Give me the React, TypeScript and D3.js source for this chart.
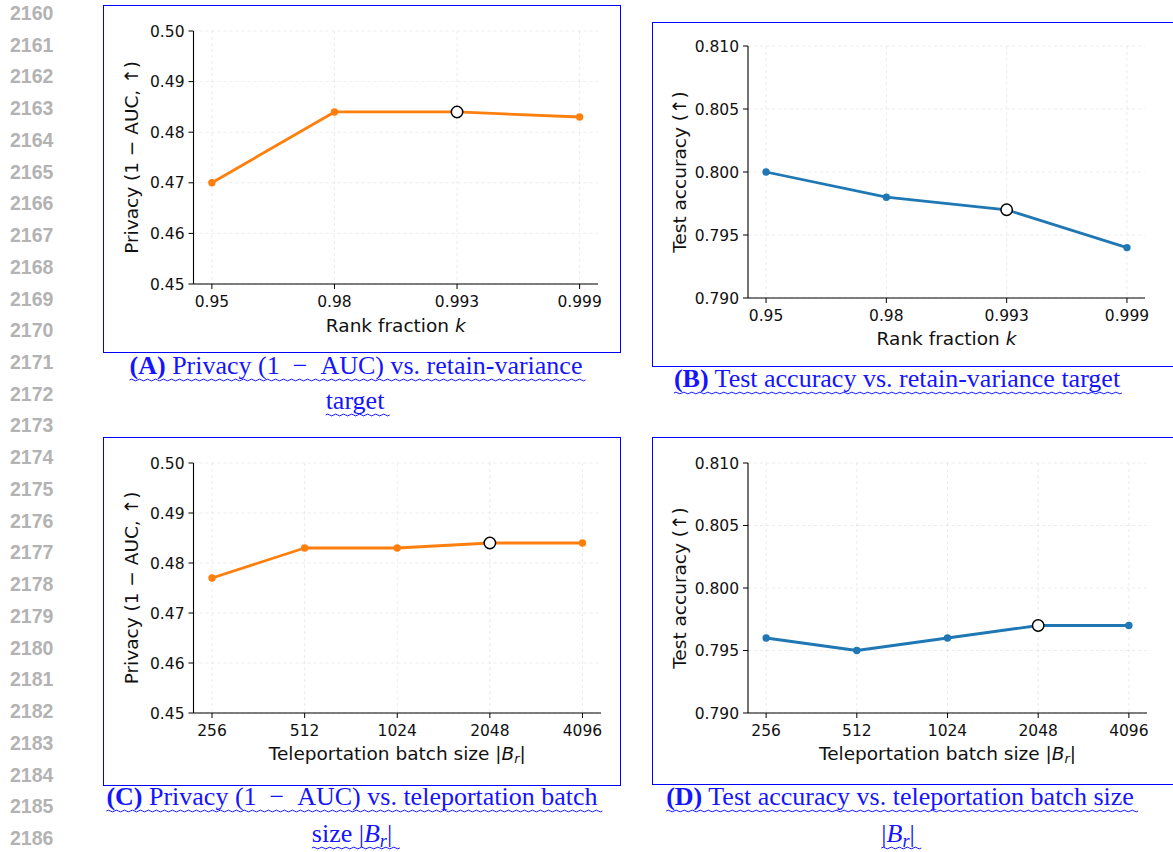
import React, { useLayoutEffect, useRef, useState } from "react";
import * as d3 from "d3";

// ---------- data ----------
const RANK_K = ["0.95", "0.98", "0.993", "0.999"];
const PRIVACY_K = [0.470, 0.484, 0.484, 0.483];
const ACC_K = [0.800, 0.798, 0.797, 0.794];
const HIGHLIGHT_K = 2;

const BATCH = ["256", "512", "1024", "2048", "4096"];
const PRIVACY_B = [0.477, 0.483, 0.483, 0.484, 0.484];
const ACC_B = [0.796, 0.795, 0.796, 0.797, 0.797];
const HIGHLIGHT_B = 3;

const PRIVACY_TICKS = [0.45, 0.46, 0.47, 0.48, 0.49, 0.50];
const ACC_TICKS = [0.790, 0.795, 0.800, 0.805, 0.810];

const LINE_NUMBERS = d3.range(2160, 2187);

const ORANGE = "#ff7f0e";
const BLUE = "#1f77b4";
const CAPTION = "#1414ff";
const MPL_FONT = "'DejaVu Sans', sans-serif";
const SERIF = "'Liberation Serif', 'Times New Roman', serif";
const TICK_FS = 15.5;
const LABEL_FS = 18.5;
const CAP_FS = 26;

type Layout = {
  box: { x: number; y: number; w: number; h: number };
  ax: { l: number; r: number; t: number; b: number };
  ylabelX: number;
  tickY: number;
  xlabelY: number;
};

type PanelProps = {
  layout: Layout;
  cats: string[];
  values: number[];
  highlight: number;
  color: string;
  yTicks: number[];
  yFmt: string;
  ylabel: React.ReactNode;
  xlabel: React.ReactNode;
};

function Panel({ layout, cats, values, highlight, color, yTicks, yFmt, ylabel, xlabel }: PanelProps) {
  const { box, ax } = layout;
  const n = cats.length;
  const x = d3.scaleLinear().domain([-(n - 1) * 0.05, (n - 1) * 1.05]).range([ax.l, ax.r]);
  const y = d3
    .scaleLinear()
    .domain([yTicks[0], yTicks[yTicks.length - 1]])
    .range([ax.b, ax.t]);
  const fmt = d3.format(yFmt);
  const line = d3
    .line<number>()
    .x((_, i) => x(i))
    .y((d) => y(d));
  return (
    <g>
      <rect x={box.x + 0.5} y={box.y + 0.5} width={box.w} height={box.h} fill="none" stroke="#0000ff" strokeWidth={1} />
      {/* grid */}
      {yTicks.map((t) => (
        <line key={"gy" + t} x1={ax.l} x2={ax.r} y1={y(t)} y2={y(t)} stroke="#b0b0b0" strokeOpacity={0.3} strokeWidth={0.8} strokeDasharray="3,3" />
      ))}
      {cats.map((c, i) => (
        <line key={"gx" + c} x1={x(i)} x2={x(i)} y1={ax.t} y2={ax.b} stroke="#b0b0b0" strokeOpacity={0.3} strokeWidth={0.8} strokeDasharray="3,3" />
      ))}
      {/* spines */}
      <line x1={ax.l} x2={ax.l} y1={ax.t} y2={ax.b} stroke="#000" strokeWidth={1.1} />
      <line x1={ax.l} x2={ax.r} y1={ax.b} y2={ax.b} stroke="#000" strokeWidth={1.1} />
      {/* y ticks */}
      {yTicks.map((t) => (
        <g key={"yt" + t}>
          <line x1={ax.l - 5} x2={ax.l} y1={y(t)} y2={y(t)} stroke="#000" strokeWidth={1} />
          <text x={ax.l - 9} y={y(t)} dy="0.36em" textAnchor="end" fontFamily={MPL_FONT} fontSize={TICK_FS} fill="#111">
            {fmt(t)}
          </text>
        </g>
      ))}
      {/* x ticks */}
      {cats.map((c, i) => (
        <g key={"xt" + c}>
          <line x1={x(i)} x2={x(i)} y1={ax.b} y2={ax.b + 5} stroke="#000" strokeWidth={1} />
          <text x={x(i)} y={layout.tickY} dy="0.36em" textAnchor="middle" fontFamily={MPL_FONT} fontSize={TICK_FS} fill="#111">
            {c}
          </text>
        </g>
      ))}
      {/* labels */}
      <text
        transform={`translate(${layout.ylabelX},${(ax.t + ax.b) / 2}) rotate(-90)`}
        textAnchor="middle"
        dy="0.36em"
        fontFamily={MPL_FONT}
        fontSize={LABEL_FS}
        fill="#111"
      >
        {ylabel}
      </text>
      <text x={(ax.l + ax.r) / 2} y={layout.xlabelY} dy="0.36em" textAnchor="middle" fontFamily={MPL_FONT} fontSize={LABEL_FS} fill="#111">
        {xlabel}
      </text>
      {/* series */}
      <path d={line(values) || ""} fill="none" stroke={color} strokeWidth={2.8} strokeLinejoin="round" />
      {values.map((v, i) =>
        i === highlight ? null : <circle key={"p" + i} cx={x(i)} cy={y(v)} r={3.7} fill={color} />
      )}
      <circle cx={x(highlight)} cy={y(values[highlight])} r={5.7} fill="#fff" stroke="#000" strokeWidth={1.5} />
    </g>
  );
}

const Br = ({ size }: { size: number }) => (
  <>
    {"|"}
    <tspan fontStyle="italic">B</tspan>
    <tspan fontStyle="italic" fontSize={size * 0.7} dy={size * 0.2}>
      r
    </tspan>
    <tspan dy={-size * 0.2}>|</tspan>
  </>
);

type CapLine = { cx: number; y: number; content: React.ReactNode };

function Captions({ lines }: { lines: CapLine[] }) {
  const refs = useRef<(SVGTextElement | null)[]>([]);
  const [boxes, setBoxes] = useState<{ x: number; w: number }[]>([]);
  useLayoutEffect(() => {
    setBoxes(
      refs.current.map((el) => {
        if (!el) return { x: 0, w: 0 };
        const b = el.getBBox();
        return { x: b.x, w: b.width };
      })
    );
  }, []);
  const wave = (x0: number, x1: number, yy: number) => {
    const p = 8;
    const a = 1.7;
    let d = `M${x0},${yy}`;
    for (let xx = x0; xx < x1; xx += p) {
      d += ` Q${xx + p / 4},${yy - a} ${xx + p / 2},${yy} Q${xx + (3 * p) / 4},${yy + a} ${xx + p},${yy}`;
    }
    return d;
  };
  return (
    <g>
      {lines.map((l, i) => (
        <g key={i}>
          <text
            ref={(el) => {
              refs.current[i] = el;
            }}
            x={l.cx}
            y={l.y}
            textAnchor="middle"
            fontFamily={SERIF}
            fontSize={CAP_FS}
            fill={CAPTION}
          >
            {l.content}
          </text>
          {boxes[i] && boxes[i].w > 0 ? (
            <path d={wave(boxes[i].x, boxes[i].x + boxes[i].w, l.y + 6)} fill="none" stroke={CAPTION} strokeWidth={1} />
          ) : null}
        </g>
      ))}
    </g>
  );
}

const LAYOUT_A: Layout = { box: { x: 103, y: 5, w: 517, h: 347 }, ax: { l: 193.5, r: 598, t: 31, b: 284 }, ylabelX: 131, tickY: 301, xlabelY: 325 };
const LAYOUT_B: Layout = { box: { x: 652, y: 22, w: 540, h: 344 }, ax: { l: 748, r: 1145, t: 46, b: 298 }, ylabelX: 679, tickY: 315, xlabelY: 338 };
const LAYOUT_C: Layout = { box: { x: 103, y: 437, w: 517, h: 348 }, ax: { l: 193.5, r: 601, t: 463, b: 713 }, ylabelX: 131, tickY: 730, xlabelY: 753 };
const LAYOUT_D: Layout = { box: { x: 652, y: 437, w: 540, h: 347 }, ax: { l: 748, r: 1147, t: 463, b: 713 }, ylabelX: 679, tickY: 730, xlabelY: 753 };

export default function App() {
  const privLabel = "Privacy (1 − AUC, ↑)";
  const accLabel = "Test accuracy (↑)";
  const rankLabel = (
    <>
      {"Rank fraction "}
      <tspan fontStyle="italic">k</tspan>
    </>
  );
  const batchLabel = (
    <>
      {"Teleportation batch size "}
      <Br size={LABEL_FS} />
    </>
  );
  const capLines: CapLine[] = [
    { cx: 356, y: 374, content: <><tspan fontWeight="bold">(A)</tspan>{" Privacy (1\u2002−\u2002AUC) vs. retain-variance"}</> },
    { cx: 355, y: 409, content: "target" },
    { cx: 897, y: 387, content: <><tspan fontWeight="bold">(B)</tspan>{" Test accuracy vs. retain-variance target"}</> },
    { cx: 352, y: 805, content: <><tspan fontWeight="bold">(C)</tspan>{" Privacy (1\u2002−\u2002AUC) vs. teleportation batch"}</> },
    { cx: 352, y: 842, content: <>{"size "}<Br size={CAP_FS} /></> },
    { cx: 900, y: 805, content: <><tspan fontWeight="bold">(D)</tspan>{" Test accuracy vs. teleportation batch size"}</> },
    { cx: 898, y: 842, content: <Br size={CAP_FS} /> },
  ];
  return (
    <svg width={1173} height={852} style={{ position: "absolute", left: 0, top: 0, background: "#fff" }}>
      <rect width={1173} height={852} fill="#fff" />
      {LINE_NUMBERS.map((n, i) => (
        <text key={n} x={10} y={20 + i * 31.73} fontFamily="'Liberation Sans', Arial, sans-serif" fontWeight="bold" fontSize={19.5} fill="#b3b3b3">
          {n}
        </text>
      ))}
      <Panel layout={LAYOUT_A} cats={RANK_K} values={PRIVACY_K} highlight={HIGHLIGHT_K} color={ORANGE} yTicks={PRIVACY_TICKS} yFmt=".2f" ylabel={privLabel} xlabel={rankLabel} />
      <Panel layout={LAYOUT_B} cats={RANK_K} values={ACC_K} highlight={HIGHLIGHT_K} color={BLUE} yTicks={ACC_TICKS} yFmt=".3f" ylabel={accLabel} xlabel={rankLabel} />
      <Panel layout={LAYOUT_C} cats={BATCH} values={PRIVACY_B} highlight={HIGHLIGHT_B} color={ORANGE} yTicks={PRIVACY_TICKS} yFmt=".2f" ylabel={privLabel} xlabel={batchLabel} />
      <Panel layout={LAYOUT_D} cats={BATCH} values={ACC_B} highlight={HIGHLIGHT_B} color={BLUE} yTicks={ACC_TICKS} yFmt=".3f" ylabel={accLabel} xlabel={batchLabel} />
      <Captions lines={capLines} />
    </svg>
  );
}
